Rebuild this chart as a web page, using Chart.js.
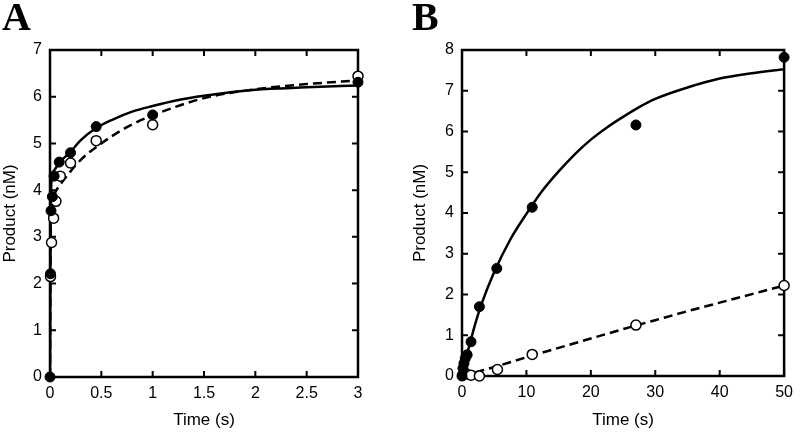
<!DOCTYPE html>
<html lang="en">
<head>
    <meta charset="UTF-8">
    <title>Product vs Time</title>
    <script src="https://cdn.jsdelivr.net/npm/chart.js"></script>
    <style>
        body { margin: 0; background: #fff; }
        #wrap { position: relative; width: 800px; height: 432px; display: flex; }
        .panel { position: relative; width: 400px; height: 432px; }
        .tag { position: absolute; top: -7px; font: bold 40px "Liberation Serif", "Times New Roman", serif; color: #000; }
    </style>
</head>
<body>
    <div id="wrap">
        <div class="panel">
            <canvas id="chartA" width="400" height="432"></canvas>
            <div class="tag" style="left:2px">A</div>
        </div>
        <div class="panel">
            <canvas id="chartB" width="400" height="432"></canvas>
            <div class="tag" style="left:12px">B</div>
        </div>
    </div>

    <script>
        // panel A - data points
        const timeA_filled = [0, 0.005, 0.01, 0.023, 0.04, 0.09, 0.2, 0.45, 1, 3];
        const prodA_filled = [0, 2.21, 3.56, 3.86, 4.3, 4.6, 4.8, 5.36, 5.61, 6.31];
        const timeA_open = [0.005, 0.015, 0.035, 0.058, 0.1, 0.2, 0.45, 1, 3];
        const prodA_open = [2.15, 2.88, 3.4, 3.76, 4.3, 4.58, 5.06, 5.4, 6.44];
        // panel A - fitted curves
        const timeA_solid = [0, 0.004, 0.008, 0.012, 0.02, 0.05, 0.1, 0.2, 0.3, 0.45, 0.6, 0.8, 1, 1.25, 1.5, 2, 2.5, 3];
        const prodA_solid = [0, 2.4, 3.7, 4.1, 4.3, 4.45, 4.61, 4.82, 5.07, 5.33, 5.5, 5.68, 5.8, 5.93, 6.02, 6.15, 6.2, 6.24];
        const timeA_dash = [0, 0.004, 0.008, 0.015, 0.03, 0.05, 0.1, 0.2, 0.3, 0.5, 0.75, 1, 1.5, 2, 2.5, 3];
        const prodA_dash = [0, 2.2, 3.3, 3.7, 3.85, 3.95, 4.12, 4.4, 4.65, 5.0, 5.35, 5.6, 5.97, 6.16, 6.27, 6.35];

        // panel B - data points
        const timeB_filled = [0, 0.15, 0.3, 0.5, 0.8, 1.4, 2.7, 5.4, 10.9, 27, 50];
        const prodB_filled = [0, 0.19, 0.31, 0.43, 0.52, 0.84, 1.7, 2.64, 4.14, 6.16, 7.82];
        const timeB_open = [0.1, 0.7, 1.4, 2.7, 5.5, 10.9, 27, 50];
        const prodB_open = [0.02, 0.05, 0.02, 0.0, 0.16, 0.53, 1.25, 2.22];
        // panel B - fitted curves
        const timeB_solid = [0, 0.5, 1, 2, 3, 5, 7.5, 10, 12.5, 15, 17.5, 20, 22.5, 25, 27.5, 30, 35, 40, 45, 50];
        const prodB_solid = [0, 0.35, 0.66, 1.25, 1.75, 2.55, 3.35, 3.98, 4.55, 5.02, 5.44, 5.8, 6.1, 6.36, 6.6, 6.8, 7.08, 7.3, 7.43, 7.53];
        const timeB_dash = [0, 5, 10, 15, 20, 25, 30, 35, 40, 45, 50];
        const prodB_dash = [0, 0.22, 0.46, 0.69, 0.92, 1.15, 1.37, 1.59, 1.8, 2.01, 2.22];

        const toXY = (xs, ys) => xs.map((x, i) => ({ x: x, y: ys[i] }));

        Chart.defaults.font.family = '"Liberation Sans", Arial, sans-serif';
        Chart.defaults.font.size = 16;
        Chart.defaults.color = '#000';

        // box around the plot with inward ticks on all four sides
        const frame = {
            id: 'frame',
            beforeDatasetsDraw(chart) {
                const ctx = chart.ctx;
                const a = chart.chartArea;
                const len = 6;
                ctx.save();
                ctx.strokeStyle = '#000';
                ctx.lineWidth = 2;
                chart.scales.x.ticks.forEach(t => {
                    const px = chart.scales.x.getPixelForValue(t.value);
                    ctx.beginPath();
                    ctx.moveTo(px, a.bottom); ctx.lineTo(px, a.bottom - len);
                    ctx.moveTo(px, a.top); ctx.lineTo(px, a.top + len);
                    ctx.stroke();
                });
                chart.scales.y.ticks.forEach(t => {
                    const py = chart.scales.y.getPixelForValue(t.value);
                    ctx.beginPath();
                    ctx.moveTo(a.left, py); ctx.lineTo(a.left + len, py);
                    ctx.moveTo(a.right, py); ctx.lineTo(a.right - len, py);
                    ctx.stroke();
                });
                ctx.lineWidth = 2.5;
                ctx.strokeRect(a.left, a.top, a.right - a.left, a.bottom - a.top);
                ctx.restore();
            }
        };

        function makeChart(id, d, xMax, xStep, yMax, pad, yWidth, xHeight) {
            const ctx = document.getElementById(id).getContext('2d');
            return new Chart(ctx, {
                type: 'scatter',
                data: {
                    datasets: [{
                        data: d.filled,
                        pointRadius: 5,
                        pointBackgroundColor: '#000',
                        pointBorderColor: '#000',
                        clip: false
                    }, {
                        data: d.open,
                        pointRadius: 5,
                        pointBackgroundColor: '#fff',
                        pointBorderColor: '#000',
                        pointBorderWidth: 1.5,
                        clip: false
                    }, {
                        data: d.solid,
                        showLine: true,
                        pointRadius: 0,
                        borderColor: '#000',
                        borderWidth: 2.5,
                        cubicInterpolationMode: 'monotone'
                    }, {
                        data: d.dash,
                        showLine: true,
                        pointRadius: 0,
                        borderColor: '#000',
                        borderWidth: 2.5,
                        borderDash: [9, 5],
                        cubicInterpolationMode: 'monotone'
                    }]
                },
                options: {
                    responsive: false,
                    animation: false,
                    layout: { padding: pad },
                    plugins: { legend: { display: false }, tooltip: { enabled: false } },
                    scales: {
                        x: {
                            type: 'linear',
                            min: 0, max: xMax,
                            grid: { display: false, drawTicks: false },
                            border: { display: false },
                            ticks: { stepSize: xStep, padding: 7, maxRotation: 0, callback: v => String(v) },
                            title: { display: true, text: 'Time (s)', font: { size: 17 }, padding: { top: 0, bottom: 1 } },
                            afterFit: s => { s.height = xHeight; }
                        },
                        y: {
                            min: 0, max: yMax,
                            grid: { display: false, drawTicks: false },
                            border: { display: false },
                            ticks: { stepSize: 1, padding: 8 },
                            title: { display: true, text: 'Product (nM)', font: { size: 17 }, padding: { top: 0, bottom: 0 } },
                            afterFit: s => { s.width = yWidth; }
                        }
                    }
                },
                plugins: [frame]
            });
        }

        makeChart('chartA', {
            filled: toXY(timeA_filled, prodA_filled),
            open: toXY(timeA_open, prodA_open),
            solid: toXY(timeA_solid, prodA_solid),
            dash: toXY(timeA_dash, prodA_dash)
        }, 3, 0.5, 7, { top: 50, right: 42, left: 0, bottom: 0 }, 50, 55);

        makeChart('chartB', {
            filled: toXY(timeB_filled, prodB_filled),
            open: toXY(timeB_open, prodB_open),
            solid: toXY(timeB_solid, prodB_solid),
            dash: toXY(timeB_dash, prodB_dash)
        }, 50, 10, 8, { top: 50, right: 12, left: 10, bottom: 0 }, 52, 56);
    </script>
</body>
</html>
